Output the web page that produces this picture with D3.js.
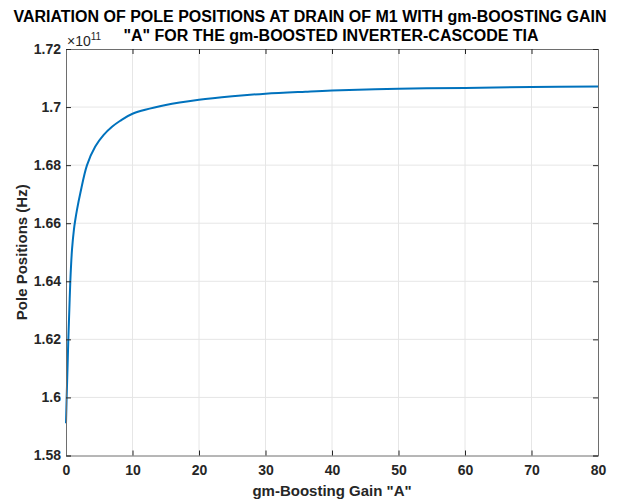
<!DOCTYPE html>
<html>
<head>
<meta charset="utf-8">
<script src="https://cdn.jsdelivr.net/npm/d3@7"></script>
<style>
html,body{margin:0;padding:0;background:#fff;}
svg{display:block;font-family:"Liberation Sans",Arial,sans-serif;}
</style>
</head>
<body>
<svg id="chart" width="617" height="500"></svg>
<script>
// Data (pole position in units of 1e11 Hz)
const gainA = [0, 0.1, 0.25, 0.35, 0.5, 0.65, 0.9, 1.2, 1.4, 1.65, 2.15, 3.16, 4.4, 5.67, 6.92, 8.1, 10, 15, 20, 25, 30, 36, 40, 50, 60, 70, 80];
const poleHz = [1.5911, 1.6000, 1.6118, 1.6200, 1.6301, 1.6400, 1.6508, 1.6580, 1.6612, 1.6646, 1.6703, 1.6800, 1.6864, 1.6904, 1.6932, 1.6952, 1.6977, 1.7007, 1.7025, 1.7037, 1.7046, 1.7053, 1.7057, 1.7063, 1.7066, 1.7069, 1.7071];
const xTicks = [0, 10, 20, 30, 40, 50, 60, 70, 80];
const yTicks = [1.58, 1.60, 1.62, 1.64, 1.66, 1.68, 1.70, 1.72];
const titleLines = ["VARIATION OF POLE POSITIONS AT DRAIN OF M1 WITH gm-BOOSTING GAIN", "\"A\" FOR THE gm-BOOSTED INVERTER-CASCODE TIA"];
const xLabel = "gm-Boosting Gain \"A\"";
const yLabel = "Pole Positions (Hz)";

const svg = d3.select("#chart");
const L = 66, R = 598, T = 49, B = 455.5;
const x = d3.scaleLinear().domain([0, 80]).range([L, R]);
const y = d3.scaleLinear().domain([1.58, 1.72]).range([B, T]);
const txt = "#262626";
const axisCol = "#262626";

// grid
const g = svg.append("g");
g.selectAll(".gx").data(xTicks.slice(1, -1)).enter().append("line")
  .attr("x1", d => x(d)).attr("x2", d => x(d)).attr("y1", T).attr("y2", B)
  .attr("stroke", "#e6e6e6").attr("stroke-width", 1);
g.selectAll(".gy").data(yTicks.slice(1, -1)).enter().append("line")
  .attr("y1", d => y(d)).attr("y2", d => y(d)).attr("x1", L).attr("x2", R)
  .attr("stroke", "#e6e6e6").attr("stroke-width", 1);

// line
const line = d3.line().x((d, i) => x(gainA[i])).y(d => y(d)).curve(d3.curveCatmullRom.alpha(0.5));
svg.append("path").datum(poleHz).attr("d", line)
  .attr("fill", "none").attr("stroke", "#0072BD").attr("stroke-width", 2);

// axes
const xAxisB = d3.axisBottom(x).tickValues(xTicks).tickSize(-5).tickFormat(d3.format("d"));
const xAxisT = d3.axisTop(x).tickValues(xTicks).tickSize(-5).tickFormat("");
const yAxisL = d3.axisLeft(y).tickValues(yTicks).tickSize(-5).tickFormat(d => d3.format("")(+d.toFixed(2)));
const yAxisR = d3.axisRight(y).tickValues(yTicks).tickSize(-5).tickFormat("");

function style(sel) {
  sel.select(".domain").attr("stroke", axisCol).attr("stroke-width", 1);
  sel.selectAll(".tick line").attr("stroke", axisCol);
  sel.selectAll("text").attr("fill", txt).attr("font-size", 14).attr("font-weight", "bold")
    .attr("font-family", "'Liberation Sans',Arial,sans-serif");
}
const gxb = svg.append("g").attr("transform", `translate(0,${B})`).call(xAxisB).call(style);
gxb.selectAll("text").attr("dy", null).attr("y", 19);
svg.append("g").attr("transform", `translate(0,${T})`).call(xAxisT).call(style);
const gyl = svg.append("g").attr("transform", `translate(${L},0)`).call(yAxisL).call(style);
gyl.selectAll("text").attr("x", -5);
svg.append("g").attr("transform", `translate(${R},0)`).call(yAxisR).call(style);
svg.selectAll(".domain").attr("stroke", "#6e6e6e");

// exponent
const ex = svg.append("text").attr("x", 67).attr("y", 46).attr("fill", txt).attr("font-size", 14);
ex.append("tspan").text("\u00d710");
ex.append("tspan").text("11").attr("font-size", 10).attr("dy", -6);

// title
svg.append("g").selectAll("text").data(titleLines).enter().append("text")
  .attr("x", (d, i) => i === 0 ? 310 : 331).attr("y", (d, i) => 22 + i * 19)
  .attr("text-anchor", "middle").attr("font-weight", "bold").attr("font-size", 16)
  .attr("fill", "#000").text(d => d);

// axis labels
svg.append("text").attr("x", (L + R) / 2).attr("y", 496).attr("text-anchor", "middle")
  .attr("font-weight", "bold").attr("font-size", 15).attr("fill", txt).text(xLabel);
svg.append("text").attr("transform", `translate(27,${(T + B) / 2}) rotate(-90)`)
  .attr("text-anchor", "middle").attr("font-weight", "bold").attr("font-size", 15)
  .attr("fill", txt).text(yLabel);
</script>
</body>
</html>
